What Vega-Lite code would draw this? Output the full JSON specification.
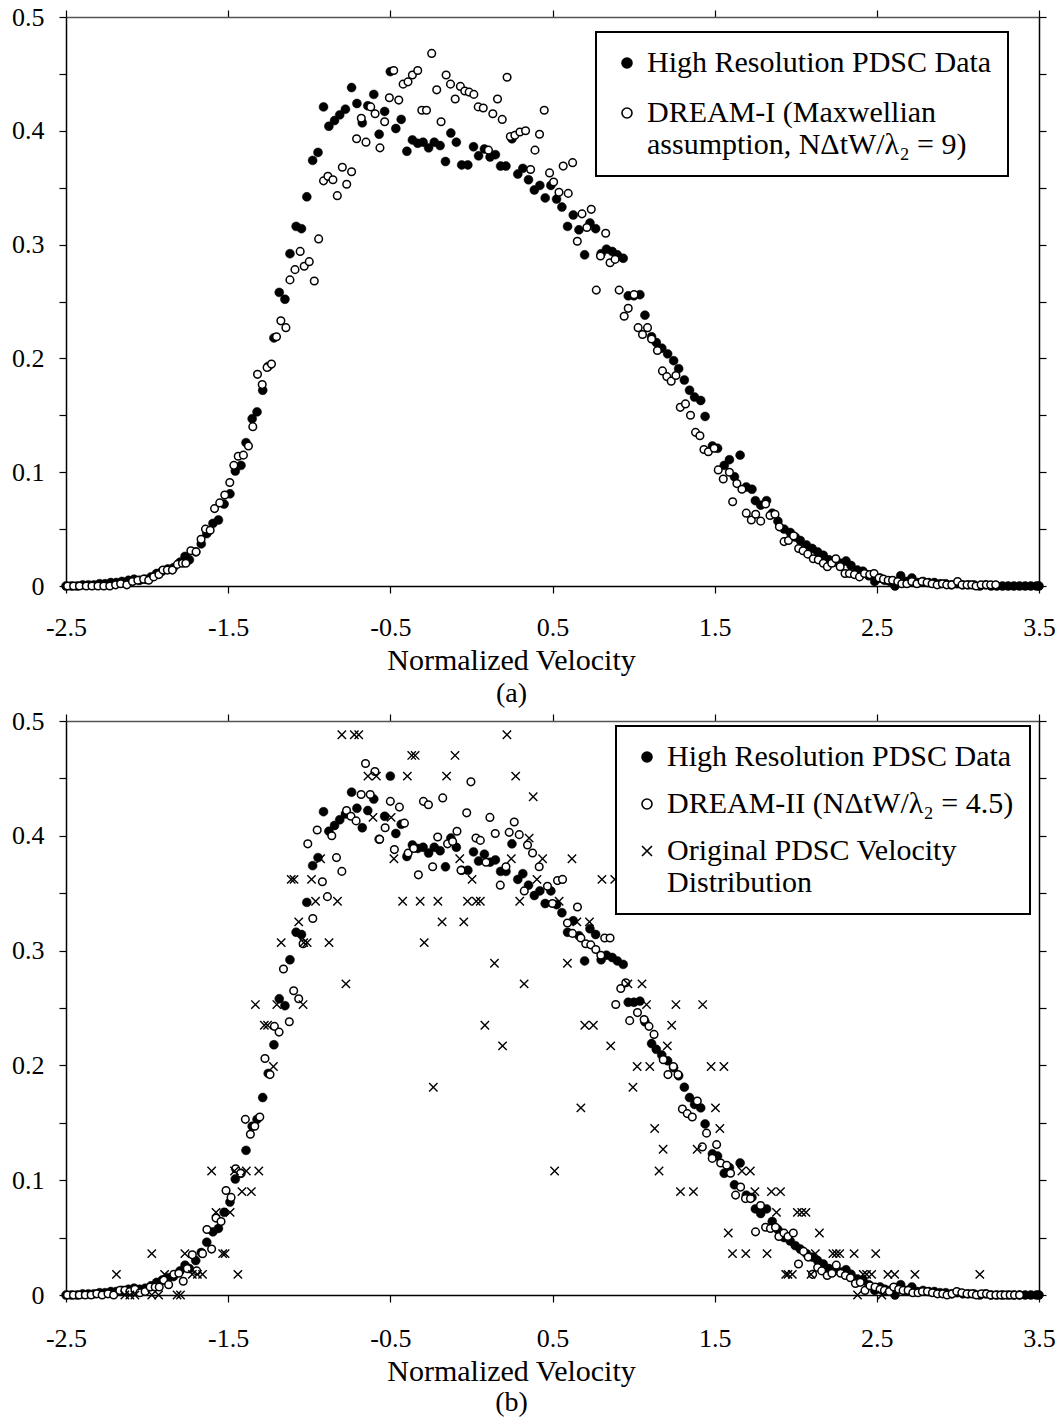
{
  "$schema": "https://vega.github.io/schema/vega-lite/v6.json",
  "padding": {"left": 11, "top": 4, "right": 2, "bottom": 0},
  "spacing": 0,
  "config": {
    "view": {"stroke": null},
    "font": "Liberation Serif",
    "axis": {"labelFont": "Liberation Serif", "labelFontSize": 26, "labelColor": "black", "titleFont": "Liberation Serif", "titleFontSize": 30, "titleFontWeight": "normal", "titleColor": "black", "domainColor": "black", "tickColor": "black", "tickSize": 7, "grid": false, "domainWidth": 1.5, "tickWidth": 1.2, "labelFlush": false, "labelOverlap": false, "labelBound": false},
    "legend": {"labelFont": "Liberation Serif", "labelFontSize": 30, "labelColor": "black", "labelLimit": 600, "symbolSize": 100, "symbolStrokeWidth": 1.6, "symbolOpacity": 1, "strokeColor": "black", "strokeWidth": 2, "fillColor": "white", "padding": 16, "rowPadding": 14, "labelOffset": 5, "symbolOffset": 0},
    "title": {"font": "Liberation Serif", "fontSize": 28, "fontWeight": "normal", "color": "black"}
  },
  "datasets": {
    "hr": [{"v":-2.5,"f":0},{"v":-2.466,"f":0},{"v":-2.431,"f":0},{"v":-2.397,"f":0.001},{"v":-2.362,"f":0.001},{"v":-2.328,"f":0.001},{"v":-2.293,"f":0.002},{"v":-2.259,"f":0.002},{"v":-2.224,"f":0.003},{"v":-2.19,"f":0.003},{"v":-2.155,"f":0.004},{"v":-2.115,"f":0.005},{"v":-2.08,"f":0.006},{"v":-2.046,"f":0.005},{"v":-2.011,"f":0.006},{"v":-1.976,"f":0.008},{"v":-1.941,"f":0.011},{"v":-1.907,"f":0.013},{"v":-1.872,"f":0.015},{"v":-1.838,"f":0.016},{"v":-1.797,"f":0.021},{"v":-1.766,"f":0.026},{"v":-1.739,"f":0.023},{"v":-1.7,"f":0.03},{"v":-1.666,"f":0.037},{"v":-1.632,"f":0.046},{"v":-1.594,"f":0.055},{"v":-1.56,"f":0.058},{"v":-1.525,"f":0.072},{"v":-1.489,"f":0.081},{"v":-1.456,"f":0.101},{"v":-1.421,"f":0.106},{"v":-1.39,"f":0.126},{"v":-1.352,"f":0.147},{"v":-1.322,"f":0.153},{"v":-1.287,"f":0.172},{"v":-1.253,"f":0.193},{"v":-1.218,"f":0.218},{"v":-1.185,"f":0.258},{"v":-1.15,"f":0.252},{"v":-1.119,"f":0.292},{"v":-1.081,"f":0.316},{"v":-1.048,"f":0.314},{"v":-1.015,"f":0.342},{"v":-0.979,"f":0.374},{"v":-0.946,"f":0.381},{"v":-0.912,"f":0.421},{"v":-0.879,"f":0.404},{"v":-0.844,"f":0.409},{"v":-0.812,"f":0.414},{"v":-0.777,"f":0.419},{"v":-0.739,"f":0.438},{"v":-0.706,"f":0.424},{"v":-0.673,"f":0.407},{"v":-0.639,"f":0.422},{"v":-0.602,"f":0.432},{"v":-0.569,"f":0.397},{"v":-0.535,"f":0.417},{"v":-0.5,"f":0.452},{"v":-0.466,"f":0.402},{"v":-0.433,"f":0.41},{"v":-0.398,"f":0.382},{"v":-0.364,"f":0.392},{"v":-0.331,"f":0.389},{"v":-0.298,"f":0.39},{"v":-0.264,"f":0.385},{"v":-0.229,"f":0.39},{"v":-0.193,"f":0.387},{"v":-0.16,"f":0.373},{"v":-0.127,"f":0.398},{"v":-0.093,"f":0.39},{"v":-0.06,"f":0.37},{"v":-0.022,"f":0.37},{"v":0.013,"f":0.386},{"v":0.044,"f":0.378},{"v":0.08,"f":0.384},{"v":0.115,"f":0.377},{"v":0.148,"f":0.379},{"v":0.18,"f":0.369},{"v":0.213,"f":0.369},{"v":0.25,"f":0.393},{"v":0.286,"f":0.362},{"v":0.317,"f":0.367},{"v":0.352,"f":0.357},{"v":0.388,"f":0.348},{"v":0.422,"f":0.352},{"v":0.455,"f":0.341},{"v":0.49,"f":0.352},{"v":0.525,"f":0.34},{"v":0.558,"f":0.333},{"v":0.593,"f":0.316},{"v":0.628,"f":0.326},{"v":0.663,"f":0.313},{"v":0.698,"f":0.291},{"v":0.731,"f":0.319},{"v":0.766,"f":0.314},{"v":0.8,"f":0.292},{"v":0.833,"f":0.296},{"v":0.868,"f":0.294},{"v":0.9,"f":0.291},{"v":0.936,"f":0.288},{"v":0.967,"f":0.255},{"v":1.002,"f":0.255},{"v":1.039,"f":0.256},{"v":1.07,"f":0.238},{"v":1.111,"f":0.219},{"v":1.14,"f":0.214},{"v":1.174,"f":0.209},{"v":1.21,"f":0.204},{"v":1.247,"f":0.198},{"v":1.278,"f":0.191},{"v":1.313,"f":0.181},{"v":1.345,"f":0.172},{"v":1.376,"f":0.166},{"v":1.414,"f":0.163},{"v":1.441,"f":0.149},{"v":1.486,"f":0.123},{"v":1.518,"f":0.121},{"v":1.559,"f":0.106},{"v":1.591,"f":0.111},{"v":1.622,"f":0.096},{"v":1.657,"f":0.115},{"v":1.695,"f":0.087},{"v":1.73,"f":0.085},{"v":1.751,"f":0.075},{"v":1.784,"f":0.071},{"v":1.82,"f":0.075},{"v":1.855,"f":0.064},{"v":1.89,"f":0.057},{"v":1.928,"f":0.05},{"v":1.966,"f":0.047},{"v":1.997,"f":0.043},{"v":2.028,"f":0.04},{"v":2.066,"f":0.036},{"v":2.101,"f":0.033},{"v":2.135,"f":0.03},{"v":2.17,"f":0.027},{"v":2.205,"f":0.023},{"v":2.24,"f":0.021},{"v":2.275,"f":0.02},{"v":2.31,"f":0.022},{"v":2.341,"f":0.018},{"v":2.38,"f":0.014},{"v":2.414,"f":0.013},{"v":2.45,"f":0.009},{"v":2.487,"f":0.004},{"v":2.52,"f":0.007},{"v":2.549,"f":0.005},{"v":2.58,"f":0.004},{"v":2.612,"f":0},{"v":2.647,"f":0.009},{"v":2.68,"f":0.004},{"v":2.716,"f":0.007},{"v":2.75,"f":0.003},{"v":2.785,"f":0.004},{"v":2.82,"f":0.003},{"v":2.855,"f":0.003},{"v":2.89,"f":0.002},{"v":2.925,"f":0.002},{"v":2.96,"f":0.001},{"v":2.995,"f":0.002},{"v":3.03,"f":0.001},{"v":3.065,"f":0.001},{"v":3.1,"f":0.001},{"v":3.135,"f":0},{"v":3.17,"f":0.001},{"v":3.205,"f":0},{"v":3.24,"f":0},{"v":3.275,"f":0},{"v":3.31,"f":0},{"v":3.345,"f":0},{"v":3.38,"f":0},{"v":3.415,"f":0},{"v":3.45,"f":0},{"v":3.485,"f":0},{"v":3.5,"f":0}],
    "d1": [{"v":-2.49,"f":0},{"v":-2.453,"f":0},{"v":-2.417,"f":0},{"v":-2.375,"f":0},{"v":-2.34,"f":0},{"v":-2.303,"f":0},{"v":-2.267,"f":0},{"v":-2.23,"f":0},{"v":-2.194,"f":0.001},{"v":-2.163,"f":0.002},{"v":-2.125,"f":0.001},{"v":-2.09,"f":0.004},{"v":-2.057,"f":0.005},{"v":-2.021,"f":0.006},{"v":-1.99,"f":0.005},{"v":-1.959,"f":0.008},{"v":-1.927,"f":0.01},{"v":-1.902,"f":0.014},{"v":-1.875,"f":0.014},{"v":-1.844,"f":0.014},{"v":-1.813,"f":0.019},{"v":-1.782,"f":0.02},{"v":-1.761,"f":0.02},{"v":-1.73,"f":0.031},{"v":-1.698,"f":0.03},{"v":-1.667,"f":0.041},{"v":-1.64,"f":0.05},{"v":-1.611,"f":0.049},{"v":-1.584,"f":0.068},{"v":-1.552,"f":0.073},{"v":-1.521,"f":0.08},{"v":-1.49,"f":0.091},{"v":-1.465,"f":0.106},{"v":-1.438,"f":0.114},{"v":-1.406,"f":0.115},{"v":-1.375,"f":0.123},{"v":-1.348,"f":0.14},{"v":-1.319,"f":0.186},{"v":-1.29,"f":0.177},{"v":-1.26,"f":0.192},{"v":-1.233,"f":0.195},{"v":-1.202,"f":0.219},{"v":-1.175,"f":0.233},{"v":-1.144,"f":0.227},{"v":-1.119,"f":0.269},{"v":-1.088,"f":0.278},{"v":-1.056,"f":0.294},{"v":-1.031,"f":0.281},{"v":-1.0,"f":0.285},{"v":-0.969,"f":0.268},{"v":-0.942,"f":0.305},{"v":-0.912,"f":0.356},{"v":-0.885,"f":0.36},{"v":-0.854,"f":0.357},{"v":-0.827,"f":0.343},{"v":-0.796,"f":0.368},{"v":-0.769,"f":0.353},{"v":-0.739,"f":0.364},{"v":-0.708,"f":0.393},{"v":-0.679,"f":0.411},{"v":-0.65,"f":0.39},{"v":-0.621,"f":0.421},{"v":-0.594,"f":0.415},{"v":-0.564,"f":0.385},{"v":-0.535,"f":0.408},{"v":-0.506,"f":0.429},{"v":-0.479,"f":0.453},{"v":-0.448,"f":0.427},{"v":-0.421,"f":0.441},{"v":-0.391,"f":0.443},{"v":-0.364,"f":0.449},{"v":-0.331,"f":0.453},{"v":-0.306,"f":0.418},{"v":-0.277,"f":0.418},{"v":-0.245,"f":0.468},{"v":-0.214,"f":0.436},{"v":-0.187,"f":0.408},{"v":-0.156,"f":0.449},{"v":-0.129,"f":0.441},{"v":-0.1,"f":0.428},{"v":-0.068,"f":0.439},{"v":-0.041,"f":0.435},{"v":-0.014,"f":0.434},{"v":0.015,"f":0.432},{"v":0.042,"f":0.421},{"v":0.073,"f":0.42},{"v":0.105,"f":0.383},{"v":0.132,"f":0.415},{"v":0.161,"f":0.428},{"v":0.19,"f":0.41},{"v":0.22,"f":0.447},{"v":0.24,"f":0.395},{"v":0.268,"f":0.396},{"v":0.299,"f":0.399},{"v":0.334,"f":0.4},{"v":0.365,"f":0.366},{"v":0.392,"f":0.383},{"v":0.42,"f":0.397},{"v":0.449,"f":0.418},{"v":0.482,"f":0.363},{"v":0.507,"f":0.355},{"v":0.54,"f":0.346},{"v":0.566,"f":0.369},{"v":0.597,"f":0.345},{"v":0.624,"f":0.372},{"v":0.653,"f":0.303},{"v":0.682,"f":0.327},{"v":0.712,"f":0.315},{"v":0.739,"f":0.331},{"v":0.77,"f":0.26},{"v":0.796,"f":0.29},{"v":0.828,"f":0.31},{"v":0.855,"f":0.284},{"v":0.886,"f":0.287},{"v":0.911,"f":0.26},{"v":0.942,"f":0.237},{"v":0.967,"f":0.244},{"v":1.003,"f":0.256},{"v":1.028,"f":0.227},{"v":1.055,"f":0.221},{"v":1.086,"f":0.227},{"v":1.111,"f":0.217},{"v":1.147,"f":0.207},{"v":1.178,"f":0.189},{"v":1.205,"f":0.184},{"v":1.232,"f":0.18},{"v":1.261,"f":0.185},{"v":1.288,"f":0.157},{"v":1.32,"f":0.16},{"v":1.351,"f":0.15},{"v":1.382,"f":0.135},{"v":1.409,"f":0.132},{"v":1.434,"f":0.12},{"v":1.461,"f":0.118},{"v":1.497,"f":0.121},{"v":1.522,"f":0.102},{"v":1.553,"f":0.094},{"v":1.591,"f":0.1},{"v":1.611,"f":0.074},{"v":1.637,"f":0.09},{"v":1.668,"f":0.085},{"v":1.695,"f":0.064},{"v":1.726,"f":0.058},{"v":1.753,"f":0.063},{"v":1.784,"f":0.057},{"v":1.814,"f":0.072},{"v":1.841,"f":0.062},{"v":1.872,"f":0.063},{"v":1.899,"f":0.052},{"v":1.928,"f":0.039},{"v":1.955,"f":0.04},{"v":1.987,"f":0.044},{"v":2.018,"f":0.033},{"v":2.045,"f":0.031},{"v":2.074,"f":0.028},{"v":2.108,"f":0.024},{"v":2.139,"f":0.023},{"v":2.17,"f":0.02},{"v":2.195,"f":0.017},{"v":2.222,"f":0.02},{"v":2.247,"f":0.024},{"v":2.274,"f":0.017},{"v":2.304,"f":0.011},{"v":2.331,"f":0.011},{"v":2.362,"f":0.01},{"v":2.393,"f":0.008},{"v":2.424,"f":0.011},{"v":2.456,"f":0.01},{"v":2.483,"f":0.011},{"v":2.514,"f":0.007},{"v":2.541,"f":0.006},{"v":2.57,"f":0.005},{"v":2.597,"f":0.005},{"v":2.629,"f":0.004},{"v":2.654,"f":0.002},{"v":2.685,"f":0.002},{"v":2.716,"f":0.004},{"v":2.747,"f":0.002},{"v":2.779,"f":0.004},{"v":2.81,"f":0.003},{"v":2.841,"f":0.002},{"v":2.872,"f":0.001},{"v":2.904,"f":0.002},{"v":2.931,"f":0.001},{"v":2.962,"f":0.001},{"v":2.998,"f":0.004},{"v":3.025,"f":0.001},{"v":3.056,"f":0.001},{"v":3.085,"f":0.001},{"v":3.112,"f":0},{"v":3.143,"f":0.001},{"v":3.175,"f":0.001},{"v":3.202,"f":0.001},{"v":3.233,"f":0.001}],
    "d2": [{"v":-2.491,"f":0},{"v":-2.454,"f":0},{"v":-2.418,"f":0},{"v":-2.381,"f":0},{"v":-2.345,"f":0},{"v":-2.31,"f":0.001},{"v":-2.277,"f":0},{"v":-2.241,"f":0.001},{"v":-2.206,"f":0},{"v":-2.168,"f":0.004},{"v":-2.137,"f":0.004},{"v":-2.106,"f":0.003},{"v":-2.075,"f":0.005},{"v":-2.044,"f":0.002},{"v":-2.012,"f":0.003},{"v":-1.981,"f":0.007},{"v":-1.95,"f":0.007},{"v":-1.925,"f":0.007},{"v":-1.898,"f":0.013},{"v":-1.867,"f":0.009},{"v":-1.835,"f":0.018},{"v":-1.804,"f":0.019},{"v":-1.777,"f":0.012},{"v":-1.752,"f":0.023},{"v":-1.721,"f":0.035},{"v":-1.694,"f":0.021},{"v":-1.658,"f":0.036},{"v":-1.631,"f":0.057},{"v":-1.602,"f":0.04},{"v":-1.575,"f":0.067},{"v":-1.544,"f":0.064},{"v":-1.513,"f":0.091},{"v":-1.482,"f":0.085},{"v":-1.454,"f":0.11},{"v":-1.423,"f":0.106},{"v":-1.394,"f":0.153},{"v":-1.363,"f":0.14},{"v":-1.336,"f":0.147},{"v":-1.305,"f":0.155},{"v":-1.273,"f":0.206},{"v":-1.242,"f":0.192},{"v":-1.215,"f":0.234},{"v":-1.186,"f":0.229},{"v":-1.159,"f":0.284},{"v":-1.123,"f":0.238},{"v":-1.096,"f":0.265},{"v":-1.065,"f":0.258},{"v":-1.038,"f":0.306},{"v":-1.009,"f":0.393},{"v":-0.978,"f":0.328},{"v":-0.951,"f":0.405},{"v":-0.919,"f":0.36},{"v":-0.888,"f":0.347},{"v":-0.861,"f":0.4},{"v":-0.832,"f":0.381},{"v":-0.799,"f":0.369},{"v":-0.77,"f":0.422},{"v":-0.743,"f":0.417},{"v":-0.711,"f":0.413},{"v":-0.68,"f":0.436},{"v":-0.653,"f":0.463},{"v":-0.624,"f":0.436},{"v":-0.595,"f":0.456},{"v":-0.566,"f":0.397},{"v":-0.532,"f":0.407},{"v":-0.5,"f":0.43},{"v":-0.475,"f":0.388},{"v":-0.444,"f":0.425},{"v":-0.413,"f":0.411},{"v":-0.39,"f":0.385},{"v":-0.356,"f":0.389},{"v":-0.327,"f":0.366},{"v":-0.296,"f":0.43},{"v":-0.265,"f":0.427},{"v":-0.239,"f":0.373},{"v":-0.208,"f":0.399},{"v":-0.177,"f":0.433},{"v":-0.147,"f":0.393},{"v":-0.116,"f":0.395},{"v":-0.089,"f":0.404},{"v":-0.064,"f":0.37},{"v":-0.029,"f":0.42},{"v":-0.003,"f":0.447},{"v":0.028,"f":0.398},{"v":0.055,"f":0.396},{"v":0.09,"f":0.377},{"v":0.114,"f":0.416},{"v":0.147,"f":0.402},{"v":0.178,"f":0.357},{"v":0.213,"f":0.373},{"v":0.233,"f":0.403},{"v":0.264,"f":0.412},{"v":0.295,"f":0.401},{"v":0.326,"f":0.352},{"v":0.346,"f":0.392},{"v":0.377,"f":0.385},{"v":0.418,"f":0.373},{"v":0.469,"f":0.356},{"v":0.5,"f":0.341},{"v":0.531,"f":0.361},{"v":0.562,"f":0.362},{"v":0.592,"f":0.324},{"v":0.623,"f":0.315},{"v":0.654,"f":0.338},{"v":0.675,"f":0.311},{"v":0.705,"f":0.306},{"v":0.736,"f":0.305},{"v":0.767,"f":0.301},{"v":0.798,"f":0.296},{"v":0.822,"f":0.311},{"v":0.855,"f":0.311},{"v":0.89,"f":0.253},{"v":0.921,"f":0.267},{"v":0.952,"f":0.272},{"v":0.976,"f":0.239},{"v":1.024,"f":0.246},{"v":1.065,"f":0.24},{"v":1.095,"f":0.234},{"v":1.126,"f":0.227},{"v":1.183,"f":0.205},{"v":1.212,"f":0.192},{"v":1.245,"f":0.199},{"v":1.274,"f":0.192},{"v":1.301,"f":0.162},{"v":1.331,"f":0.158},{"v":1.362,"f":0.155},{"v":1.393,"f":0.169},{"v":1.424,"f":0.129},{"v":1.45,"f":0.141},{"v":1.485,"f":0.119},{"v":1.512,"f":0.131},{"v":1.537,"f":0.115},{"v":1.574,"f":0.113},{"v":1.598,"f":0.106},{"v":1.629,"f":0.087},{"v":1.66,"f":0.094},{"v":1.69,"f":0.084},{"v":1.721,"f":0.084},{"v":1.752,"f":0.055},{"v":1.783,"f":0.078},{"v":1.814,"f":0.059},{"v":1.844,"f":0.058},{"v":1.875,"f":0.059},{"v":1.896,"f":0.051},{"v":1.927,"f":0.054},{"v":1.952,"f":0.051},{"v":1.985,"f":0.054},{"v":2.017,"f":0.027},{"v":2.048,"f":0.038},{"v":2.077,"f":0.033},{"v":2.104,"f":0.018},{"v":2.135,"f":0.024},{"v":2.16,"f":0.021},{"v":2.194,"f":0.017},{"v":2.223,"f":0.019},{"v":2.25,"f":0.026},{"v":2.277,"f":0.019},{"v":2.306,"f":0.017},{"v":2.337,"f":0.015},{"v":2.368,"f":0.01},{"v":2.398,"f":0.011},{"v":2.427,"f":0.004},{"v":2.458,"f":0.008},{"v":2.489,"f":0.007},{"v":2.52,"f":0.005},{"v":2.547,"f":0.004},{"v":2.577,"f":0.003},{"v":2.604,"f":0.007},{"v":2.635,"f":0.005},{"v":2.662,"f":0.004},{"v":2.693,"f":0.004},{"v":2.722,"f":0.002},{"v":2.754,"f":0.002},{"v":2.781,"f":0.003},{"v":2.812,"f":0.003},{"v":2.843,"f":0.002},{"v":2.874,"f":0.001},{"v":2.906,"f":0.001},{"v":2.933,"f":0},{"v":2.964,"f":0.001},{"v":2.993,"f":0.003},{"v":3.024,"f":0.002},{"v":3.056,"f":0.001},{"v":3.087,"f":0.001},{"v":3.114,"f":0},{"v":3.145,"f":0.001},{"v":3.176,"f":0.001},{"v":3.201,"f":0},{"v":3.234,"f":0},{"v":3.264,"f":0},{"v":3.291,"f":0},{"v":3.322,"f":0},{"v":3.349,"f":0},{"v":3.38,"f":0}],
    "orig": [{"v":-0.799,"f":0.488},{"v":-0.722,"f":0.488},{"v":-0.695,"f":0.488},{"v":0.219,"f":0.488},{"v":-0.368,"f":0.47},{"v":-0.347,"f":0.47},{"v":-0.101,"f":0.47},{"v":-0.638,"f":0.452},{"v":-0.586,"f":0.452},{"v":-0.395,"f":0.452},{"v":-0.153,"f":0.452},{"v":0.273,"f":0.452},{"v":0.381,"f":0.434},{"v":-0.607,"f":0.416},{"v":-0.495,"f":0.416},{"v":0.356,"f":0.398},{"v":-0.93,"f":0.38},{"v":-0.478,"f":0.38},{"v":-0.072,"f":0.38},{"v":0.246,"f":0.38},{"v":0.439,"f":0.38},{"v":0.62,"f":0.38},{"v":-1.111,"f":0.362},{"v":-1.094,"f":0.362},{"v":-0.986,"f":0.362},{"v":0.004,"f":0.362},{"v":0.404,"f":0.362},{"v":0.805,"f":0.362},{"v":0.884,"f":0.362},{"v":-0.961,"f":0.343},{"v":-0.826,"f":0.343},{"v":-0.424,"f":0.343},{"v":-0.316,"f":0.343},{"v":-0.207,"f":0.343},{"v":-0.024,"f":0.343},{"v":0.03,"f":0.343},{"v":0.055,"f":0.343},{"v":0.298,"f":0.343},{"v":0.541,"f":0.343},{"v":0.943,"f":0.343},{"v":-1.065,"f":0.325},{"v":-0.181,"f":0.325},{"v":-0.047,"f":0.325},{"v":0.65,"f":0.325},{"v":0.728,"f":0.325},{"v":-1.173,"f":0.307},{"v":-1.034,"f":0.307},{"v":-1.013,"f":0.307},{"v":-0.878,"f":0.307},{"v":-0.291,"f":0.307},{"v":0.142,"f":0.289},{"v":0.592,"f":0.289},{"v":-0.774,"f":0.271},{"v":0.325,"f":0.271},{"v":0.965,"f":0.271},{"v":1.052,"f":0.271},{"v":-1.332,"f":0.253},{"v":-1.2,"f":0.253},{"v":-1.038,"f":0.253},{"v":1.08,"f":0.253},{"v":1.261,"f":0.253},{"v":1.426,"f":0.253},{"v":-1.277,"f":0.235},{"v":-1.257,"f":0.235},{"v":0.083,"f":0.235},{"v":0.699,"f":0.235},{"v":0.752,"f":0.235},{"v":1.235,"f":0.235},{"v":0.192,"f":0.217},{"v":0.859,"f":0.217},{"v":1.208,"f":0.217},{"v":-1.221,"f":0.199},{"v":1.022,"f":0.199},{"v":1.1,"f":0.199},{"v":1.478,"f":0.199},{"v":1.557,"f":0.199},{"v":-0.235,"f":0.181},{"v":0.996,"f":0.181},{"v":0.675,"f":0.163},{"v":1.505,"f":0.163},{"v":1.13,"f":0.145},{"v":1.532,"f":0.145},{"v":1.182,"f":0.127},{"v":1.392,"f":0.127},{"v":-1.602,"f":0.108},{"v":-1.461,"f":0.108},{"v":-1.388,"f":0.108},{"v":-1.311,"f":0.108},{"v":0.513,"f":0.108},{"v":1.157,"f":0.108},{"v":1.668,"f":0.108},{"v":1.72,"f":0.108},{"v":-1.415,"f":0.09},{"v":-1.357,"f":0.09},{"v":1.289,"f":0.09},{"v":1.369,"f":0.09},{"v":1.748,"f":0.09},{"v":1.85,"f":0.09},{"v":1.906,"f":0.09},{"v":-1.575,"f":0.072},{"v":-1.488,"f":0.072},{"v":1.881,"f":0.072},{"v":2.01,"f":0.072},{"v":2.037,"f":0.072},{"v":2.063,"f":0.072},{"v":1.584,"f":0.054},{"v":2.146,"f":0.054},{"v":-1.971,"f":0.036},{"v":-1.767,"f":0.036},{"v":-1.534,"f":0.036},{"v":-1.519,"f":0.036},{"v":1.61,"f":0.036},{"v":1.692,"f":0.036},{"v":1.823,"f":0.036},{"v":2.121,"f":0.036},{"v":2.229,"f":0.036},{"v":2.25,"f":0.036},{"v":2.271,"f":0.036},{"v":2.36,"f":0.036},{"v":2.493,"f":0.036},{"v":-2.189,"f":0.018},{"v":-1.892,"f":0.018},{"v":-1.721,"f":0.018},{"v":-1.69,"f":0.018},{"v":-1.658,"f":0.018},{"v":-1.44,"f":0.018},{"v":1.938,"f":0.018},{"v":1.952,"f":0.018},{"v":1.979,"f":0.018},{"v":2.094,"f":0.018},{"v":2.416,"f":0.018},{"v":2.437,"f":0.018},{"v":2.468,"f":0.018},{"v":2.568,"f":0.018},{"v":2.61,"f":0.018},{"v":2.735,"f":0.018},{"v":3.135,"f":0.018},{"v":-2.137,"f":0},{"v":-2.106,"f":0},{"v":-2.075,"f":0},{"v":-1.971,"f":0},{"v":-1.929,"f":0},{"v":-1.815,"f":0},{"v":-1.794,"f":0},{"v":2.381,"f":0},{"v":2.531,"f":0}]
  },
  "resolve": {"scale": {"shape": "independent", "fill": "independent", "stroke": "independent"}, "legend": {"shape": "independent", "fill": "independent", "stroke": "independent"}},
  "vconcat": [
    {
      "width": 973, "height": 569,
      "title": {"text": "(a)", "orient": "bottom", "anchor": "middle", "frame": "group", "dx": -41, "offset": 5},
      "resolve": {"axis": {"x": "independent", "y": "independent"}},
      "layer": [
        {
          "data": {"name": "hr"},
          "mark": {"type": "point", "size": 80, "opacity": 1, "strokeWidth": 0.5},
          "encoding": {
            "x": {"field": "v", "type": "quantitative", "scale": {"domain": [-2.5, 3.5], "nice": false, "zero": false},
                  "axis": {"orient": "bottom", "values": [-2.5, -1.5, -0.5, 0.5, 1.5, 2.5, 3.5], "labelExpr": "'' + datum.value", "title": "Normalized Velocity", "titleX": 445, "labelPadding": 21, "titlePadding": 5}},
            "y": {"field": "f", "type": "quantitative", "scale": {"domain": [0, 0.5], "nice": false},
                  "axis": {"orient": "left", "values": [0, 0.05, 0.1, 0.15, 0.2, 0.25, 0.3, 0.35, 0.4, 0.45, 0.5], "labelExpr": "round(datum.value*100) % 10 == 0 ? '' + datum.value : ''", "title": null, "labelPadding": 15}},
            "shape": {"datum": "High Resolution PDSC Data", "scale": {"domain": ["High Resolution PDSC Data", "DREAM-I (Maxwellian|assumption, NΔtW/λ₂ = 9)"], "range": ["circle", "circle"]}, "legend": {"title": null, "orient": "none", "legendX": 530, "legendY": 15, "rowPadding": 20, "labelExpr": "split(datum.label, '|')"}},
            "fill": {"datum": "High Resolution PDSC Data", "scale": {"domain": ["High Resolution PDSC Data", "DREAM-I (Maxwellian|assumption, NΔtW/λ₂ = 9)"], "range": ["black", "white"]}, "legend": {"title": null, "orient": "none", "legendX": 530, "legendY": 15, "rowPadding": 20, "labelExpr": "split(datum.label, '|')"}},
            "stroke": {"datum": "High Resolution PDSC Data", "scale": {"domain": ["High Resolution PDSC Data", "DREAM-I (Maxwellian|assumption, NΔtW/λ₂ = 9)"], "range": ["black", "black"]}, "legend": {"title": null, "orient": "none", "legendX": 530, "legendY": 15, "rowPadding": 20, "labelExpr": "split(datum.label, '|')"}}
          }
        },
        {
          "data": {"name": "d1"},
          "mark": {"type": "point", "size": 58, "opacity": 1, "strokeWidth": 1.5},
          "encoding": {
            "x": {"field": "v", "type": "quantitative", "axis": {"orient": "top", "values": [-2.5, -1.5, -0.5, 0.5, 1.5, 2.5, 3.5], "labels": false, "title": null, "domainColor": "#555"}},
            "y": {"field": "f", "type": "quantitative", "axis": {"orient": "right", "values": [0, 0.05, 0.1, 0.15, 0.2, 0.25, 0.3, 0.35, 0.4, 0.45, 0.5], "labels": false, "title": null}},
            "shape": {"datum": "DREAM-I (Maxwellian|assumption, NΔtW/λ₂ = 9)"},
            "fill": {"datum": "DREAM-I (Maxwellian|assumption, NΔtW/λ₂ = 9)"},
            "stroke": {"datum": "DREAM-I (Maxwellian|assumption, NΔtW/λ₂ = 9)"}
          }
        }
      ]
    },
    {
      "width": 973, "height": 574,
      "title": {"text": "(b)", "orient": "bottom", "anchor": "middle", "frame": "group", "dx": -41, "offset": 3},
      "resolve": {"axis": {"x": "independent", "y": "independent"}},
      "layer": [
        {
          "data": {"name": "hr"},
          "mark": {"type": "point", "size": 80, "opacity": 1, "strokeWidth": 0.5},
          "encoding": {
            "x": {"field": "v", "type": "quantitative", "scale": {"domain": [-2.5, 3.5], "nice": false, "zero": false},
                  "axis": {"orient": "bottom", "values": [-2.5, -1.5, -0.5, 0.5, 1.5, 2.5, 3.5], "labelExpr": "'' + datum.value", "title": "Normalized Velocity", "titleX": 445, "labelPadding": 23, "titlePadding": 5}},
            "y": {"field": "f", "type": "quantitative", "scale": {"domain": [0, 0.5], "nice": false},
                  "axis": {"orient": "left", "values": [0, 0.05, 0.1, 0.15, 0.2, 0.25, 0.3, 0.35, 0.4, 0.45, 0.5], "labelExpr": "round(datum.value*100) % 10 == 0 ? '' + datum.value : ''", "title": null, "labelPadding": 15}},
            "shape": {"datum": "High Resolution PDSC Data", "scale": {"domain": ["High Resolution PDSC Data", "DREAM-II (NΔtW/λ₂ = 4.5)", "Original PDSC Velocity|Distribution"], "range": ["circle", "circle", "M-1,-1L1,1M-1,1L1,-1"]}, "legend": {"title": null, "orient": "none", "legendX": 550, "legendY": 5, "rowPadding": 17, "labelExpr": "split(datum.label, '|')"}},
            "fill": {"datum": "High Resolution PDSC Data", "scale": {"domain": ["High Resolution PDSC Data", "DREAM-II (NΔtW/λ₂ = 4.5)", "Original PDSC Velocity|Distribution"], "range": ["black", "white", "transparent"]}, "legend": {"title": null, "orient": "none", "legendX": 550, "legendY": 5, "rowPadding": 17, "labelExpr": "split(datum.label, '|')"}},
            "stroke": {"datum": "High Resolution PDSC Data", "scale": {"domain": ["High Resolution PDSC Data", "DREAM-II (NΔtW/λ₂ = 4.5)", "Original PDSC Velocity|Distribution"], "range": ["black", "black", "black"]}, "legend": {"title": null, "orient": "none", "legendX": 550, "legendY": 5, "rowPadding": 17, "labelExpr": "split(datum.label, '|')"}}
          }
        },
        {
          "data": {"name": "d2"},
          "mark": {"type": "point", "size": 58, "opacity": 1, "strokeWidth": 1.5},
          "encoding": {
            "x": {"field": "v", "type": "quantitative", "axis": {"orient": "top", "values": [-2.5, -1.5, -0.5, 0.5, 1.5, 2.5, 3.5], "labels": false, "title": null, "domainColor": "#555"}},
            "y": {"field": "f", "type": "quantitative", "axis": {"orient": "right", "values": [0, 0.05, 0.1, 0.15, 0.2, 0.25, 0.3, 0.35, 0.4, 0.45, 0.5], "labels": false, "title": null}},
            "shape": {"datum": "DREAM-II (NΔtW/λ₂ = 4.5)"},
            "fill": {"datum": "DREAM-II (NΔtW/λ₂ = 4.5)"},
            "stroke": {"datum": "DREAM-II (NΔtW/λ₂ = 4.5)"}
          }
        },
        {
          "data": {"name": "orig"},
          "mark": {"type": "point", "size": 70, "opacity": 1, "strokeWidth": 1.4},
          "encoding": {
            "x": {"field": "v", "type": "quantitative", "axis": null},
            "y": {"field": "f", "type": "quantitative", "axis": null},
            "shape": {"datum": "Original PDSC Velocity|Distribution"},
            "fill": {"datum": "Original PDSC Velocity|Distribution"},
            "stroke": {"datum": "Original PDSC Velocity|Distribution"}
          }
        }
      ]
    }
  ]
}
